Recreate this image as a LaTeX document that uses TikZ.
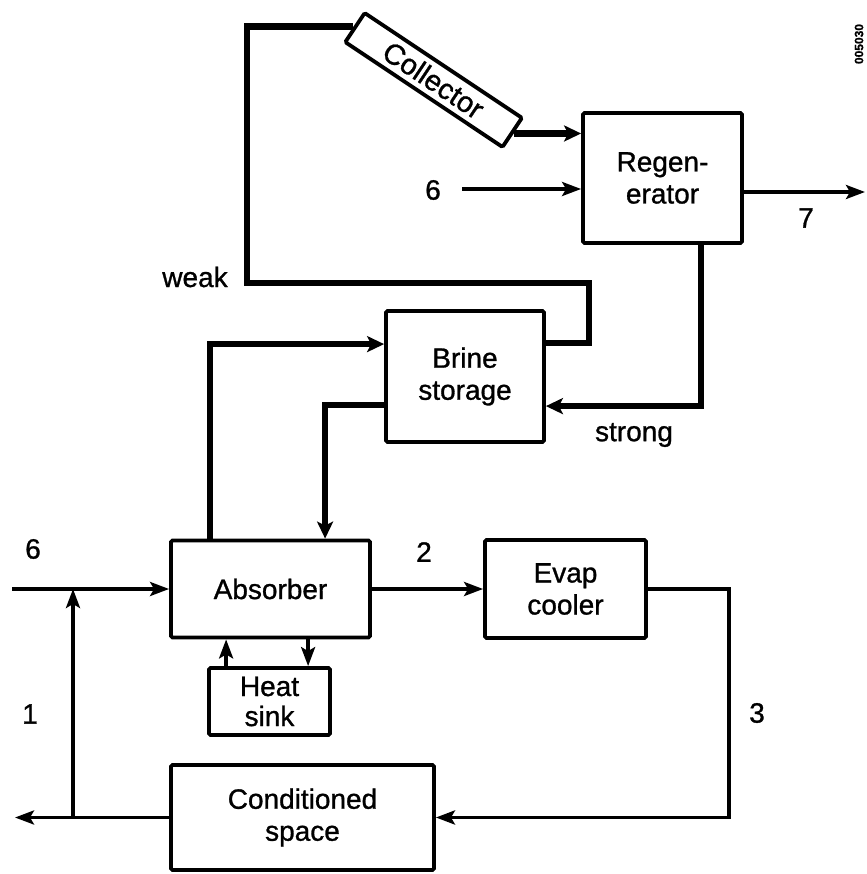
\documentclass[tikz,border=0pt]{standalone}
\usepackage{fontspec}
\setmainfont{Liberation Sans}[FakeBold=1]
\usetikzlibrary{arrows.meta,calc}
\newcommand\diagfont{\fontsize{28}{32}\selectfont}
\begin{document}
\begin{tikzpicture}[x=1pt,y=-1pt,
  box/.style={draw,line width=3.8pt,rounded corners=1.5pt,inner sep=0pt,
    align=center,font=\diagfont},
  lbl/.style={font=\diagfont,inner sep=0pt},
  tip/.style={-{Stealth[length=19pt,width=14pt,inset=4pt]}},
  flow/.style={line width=3.5pt,tip},
  plainflow/.style={line width=3.8pt,line join=miter},
  brine/.style={line width=6.5pt,line join=miter},
  brineflow/.style={brine,-{Stealth[length=17pt,width=16pt,inset=4pt]}}
]
\useasboundingbox (0,0) rectangle (866,874);

% components
\node[box,minimum width=189pt,minimum height=35pt,rotate=-33.7,font=\fontsize{29}{32}\selectfont]
  (collector) at (433.6,80) {Collector};
\node[box,minimum width=159pt,minimum height=130pt] (regen) at (662.5,178) {Regen-\\erator};
\node[box,minimum width=158pt,minimum height=131pt] (brine) at (465,376.5) {Brine\\storage};
\node[box,minimum width=199pt,minimum height=97pt] (absorber) at (270.5,589) {Absorber};
\node[box,minimum width=161pt,minimum height=98pt] (evap) at (565.5,589) {Evap\\cooler};
\node[box,minimum width=121pt,minimum height=67pt,font=\fontsize{28}{30}\selectfont]
  (sink) at (269.5,701.5) {Heat\\sink};
\node[box,minimum width=263pt,minimum height=105pt] (cond) at (302.5,817.5) {Conditioned\\space};

% stream labels
\node[lbl] (l6a) at (433,190) {6};
\node[lbl] (l7) at (806,218) {7};
\node[lbl] (l6b) at (33,549) {6};
\node[lbl] (l1) at (30,714) {1};
\node[lbl] (l2) at (424,552) {2};
\node[lbl] (l3) at (757,713) {3};
\node[lbl] (lweak) at (195,277) {weak};
\node[lbl] (lstrong) at (634,435) {strong};
\node[font=\bfseries\fontsize{12}{12}\selectfont,rotate=90,inner sep=0pt]
  (code) at (859,44) {005030};

% free ends of the streams
\coordinate (in6r) at (462,189);
\coordinate (out7) at (865,192);
\coordinate (in6l) at (12,589);
\coordinate (outl) at (15,817.5);
\coordinate (jlow) at (73,817.5);
\coordinate (jup) at (73,589);
\coordinate (weakturn) at (247,283);

% brine circuit
\draw[brineflow] (collector.east) -- (collector.east -| regen.west);
\draw[brine] ($(brine.north east)+(0,34)$) -- ++(43,0) |- (weakturn) |- (collector.west);
\draw[brineflow] ($(regen.south west)+(120,0)$) |- ($(brine.north east)+(0,97)$);
\draw[brineflow] ($(absorber.north west)+(41,0)$) |- ($(brine.north west)+(0,35)$);
\draw[brineflow] ($(brine.north west)+(0,96)$) -| ($(absorber.north west)+(156,0)$);

% regenerator air
\draw[flow] (in6r) -- (in6r -| regen.west);
\draw[flow] (regen.east |- out7) -- (out7);

% air loop
\draw[flow] (in6l) -- (absorber.west);
\draw[flow] (jlow) -- (jup);
\draw[flow] (absorber.east) -- (evap.west);
\draw[plainflow,tip] (evap.east) -- ++(81,0) |- (cond.east);
\draw[flow] (cond.west) -- (outl);

% heat sink exchange
\draw[flow] ($(sink.north west)+(19,0)$) -- ($(absorber.south west)+(57,0)$);
\draw[flow] ($(absorber.south west)+(139,0)$) -- ($(sink.north west)+(101,0)$);
\end{tikzpicture}
\end{document}
